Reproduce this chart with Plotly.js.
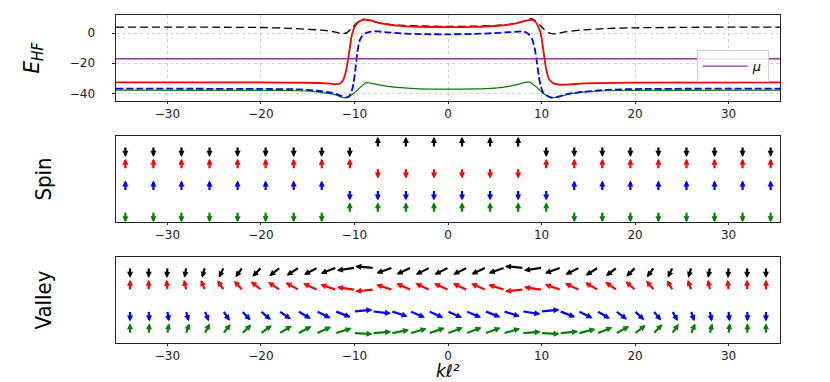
<!DOCTYPE html>
<html>
<head>
<meta charset="utf-8">
<script src="https://cdn.plot.ly/plotly-3.0.1.min.js"></script>
<style>
  body { margin: 0; background: #fff; }
  #chart { width: 830px; height: 382px; }
</style>
</head>
<body>
<div id="chart"></div>
<script>
// ---- top panel: Hartree-Fock bands E_HF(k l^2) ----
const kBlack = [-35.5, -30, -25, -20, -17, -15.8, -14, -13, -12.3, -11.6, -11.2, -10.8, -10.4, -10, -9.6, -9.1, -8.7, -8.2, -7.5, -6.5, -5.5, -4, -2, 0, 2, 4, 5.5, 6.5, 7.5, 8.3, 8.9, 9.3, 9.8, 10.3, 10.8, 11.3, 11.8, 12.7, 14.5, 17.3, 20, 25, 30, 35.5];
const eBlack = [4.0, 4.0, 3.9, 3.7, 3.2, 2.8, 2.2, 1.6, 1.0, 0.0, -0.4, 0.3, 2.5, 5.2, 7.5, 9.2, 9.0, 8.2, 7.0, 6.0, 5.3, 4.9, 4.6, 4.4, 4.5, 4.8, 5.2, 5.8, 6.9, 8.3, 9.5, 8.3, 5.5, 2.3, 0.2, -0.5, -0.1, 1.0, 2.2, 3.1, 3.5, 3.8, 4.0, 4.0];

const kRed = [-35.5, -20, -15, -13, -12, -11.6, -11.2, -10.9, -10.7, -10.5, -10.3, -10, -9.6, -9.2, -8.8, -8.2, -7.5, -6.5, -5.5, -3, 0, 3, 5, 6.5, 7.5, 8.3, 8.9, 9.3, 9.6, 9.9, 10.1, 10.3, 10.5, 10.8, 11.3, 12, 13, 14.5, 20, 35.5];
const eRed = [-32.7, -32.7, -32.9, -33.3, -33.8, -33.6, -31, -25, -18, -10, -2, 4, 7.2, 8.6, 8.9, 8.2, 7.0, 5.8, 5.0, 4.2, 4.0, 4.1, 4.7, 5.6, 6.8, 8.2, 8.8, 7.8, 5.0, 0, -7, -16, -24, -30.5, -33.3, -34.2, -34, -33.3, -32.8, -32.7];

const kBlue = [-35.5, -20, -16, -14, -12.8, -12, -11.4, -10.9, -10.6, -10.3, -10.1, -9.9, -9.7, -9.5, -9.2, -8.8, -8.2, -7.5, -6.5, -5, -2.5, 0, 2.5, 5, 6.5, 7.5, 8.1, 8.6, 9, 9.3, 9.5, 9.7, 9.9, 10.2, 10.6, 11.1, 11.7, 12.3, 13.3, 14.5, 17, 21, 35.5];
const eBlue = [-36.8, -37.0, -37.3, -38.2, -39.2, -40.3, -41.6, -42.6, -42.0, -38.5, -33, -24, -13, -6, -2, 0.0, 1.0, 1.1, 0.5, -0.2, -0.7, -0.8, -0.6, 0.0, 0.6, 1.0, 1.1, -0.5, -4, -11, -19, -28, -35, -39.5, -41.5, -42.9, -42.3, -41.1, -39.8, -38.9, -37.6, -37.0, -36.8];

const kGreen = [-35.5, -20, -16, -14, -12.8, -12, -11.4, -11, -10.6, -10.1, -9.6, -9.1, -8.8, -8.5, -8, -7.3, -6, -5, -3, 0, 3, 5, 6.5, 7.5, 8.2, 8.6, 9, 9.5, 10.2, 10.8, 11.3, 11.9, 12.7, 13.7, 14.8, 17, 21, 35.5];
const eGreen = [-37.8, -37.9, -38.2, -38.9, -40, -41, -42.4, -42.9, -42.4, -40, -37.2, -34.3, -33.0, -32.9, -33.5, -34.5, -35.6, -36.2, -36.9, -37.1, -37.0, -36.4, -35.3, -34, -32.7, -32.3, -33.5, -36, -40, -42.1, -42.7, -42.3, -40.7, -39.6, -38.9, -38.2, -37.9, -37.8];

const muRange = [-35.5, 35.5];
const muValue = -17;

// ---- middle panel: spin of each band (+1 up, -1 down) ----
const kSpin = [-34.5, -31.5, -28.5, -25.5, -22.5, -19.5, -16.5, -13.5, -10.5, -7.5, -4.5, -1.5, 1.5, 4.5, 7.5, 10.5, 13.5, 16.5, 19.5, 22.5, 25.5, 28.5, 31.5, 34.5];
const spinBlack = [-1, -1, -1, -1, -1, -1, -1, -1, -1, 1, 1, 1, 1, 1, 1, -1, -1, -1, -1, -1, -1, -1, -1, -1];
const spinRed   = [1, 1, 1, 1, 1, 1, 1, 1, 1, -1, -1, -1, -1, -1, -1, 1, 1, 1, 1, 1, 1, 1, 1, 1];
const spinBlue  = [1, 1, 1, 1, 1, 1, 1, 1, -1, -1, -1, -1, -1, -1, -1, -1, 1, 1, 1, 1, 1, 1, 1, 1];
const spinGreen = [-1, -1, -1, -1, -1, -1, -1, -1, 1, 1, 1, 1, 1, 1, 1, 1, -1, -1, -1, -1, -1, -1, -1, -1];

// ---- bottom panel: valley pseudospin angle (degrees) ----
const kValley = [-34, -32, -30, -28, -26, -24, -22, -20, -18, -16, -14, -12, -10, -8, -6, -4, -2, 0, 2, 4, 6, 8, 10, 12, 14, 16, 18, 20, 22, 24, 26, 28, 30, 32, 34];
const valBlack = [-90, -90, -92, -95, -99, -105, -112, -118, -125, -130, -136, -146, -165, 170, -148, -140, -138, -138, -138, -140, -148, 170, -165, -147, -138, -131, -125, -119, -112, -105, -99, -95, -92, -91, -90];
const valRed   = [90, 90, 93, 97, 103, 110, 117, 124, 130, 135, 140, 148, 165, -170, 150, 142, 140, 140, 140, 142, 150, -170, 165, 148, 140, 134, 128, 122, 115, 108, 101, 96, 93, 91, 90];
const valBlue  = [-90, -88, -85, -82, -77, -70, -63, -57, -52, -47, -42, -35, 10, -12, -30, -38, -40, -40, -38, -35, -30, -15, 10, -35, -42, -48, -54, -60, -66, -73, -80, -84, -87, -89, -90];
const valGreen = [90, 88, 85, 80, 74, 67, 60, 53, 48, 44, 40, 30, -5, 8, 20, 28, 32, 35, 35, 33, 28, 8, -4, 10, 25, 36, 45, 54, 62, 70, 77, 82, 86, 89, 90];

const bandColors = ['black', 'red', 'blue', 'green'];
const bandRows = [3, 2, 1, 0];

// arrow sizes in axis units (the axes are not square, so x and y differ)
const arrowLenX = 1.95;
const arrowLenY = 0.46;

let data = [
	{x: kBlack, y: eBlack, type: 'scatter', mode: 'lines', line: {color: 'black', width: 1.3, dash: '8px,4px', shape: 'spline', smoothing: 0.5}, showlegend: false, xaxis: 'x', yaxis: 'y'},
	{x: kRed, y: eRed, type: 'scatter', mode: 'lines', line: {color: 'red', width: 1.8, shape: 'spline', smoothing: 0.5}, showlegend: false, xaxis: 'x', yaxis: 'y'},
	{x: kGreen, y: eGreen, type: 'scatter', mode: 'lines', line: {color: 'green', width: 1.2, shape: 'spline', smoothing: 0.5}, showlegend: false, xaxis: 'x', yaxis: 'y'},
	{x: kBlue, y: eBlue, type: 'scatter', mode: 'lines', line: {color: 'blue', width: 1.8, dash: '7px,3px', shape: 'spline', smoothing: 0.5}, showlegend: false, xaxis: 'x', yaxis: 'y'},
	{x: muRange, y: [muValue, muValue], type: 'scatter', mode: 'lines', line: {color: '#9a2fa6', width: 1.3}, name: '<i>μ</i>', showlegend: true, xaxis: 'x', yaxis: 'y'}
];

let annotations = [];

function addArrow(axId, x0, y0, dx, dy, color) {
	annotations.push({
		xref: 'x' + axId, yref: 'y' + axId, axref: 'x' + axId, ayref: 'y' + axId,
		x: x0 + dx, y: y0 + dy, ax: x0, ay: y0,
		text: '', showarrow: true, arrowhead: 2, arrowsize: 0.55, arrowwidth: 2.2,
		arrowcolor: color, standoff: 0, startstandoff: 0, borderpad: 0,
		font: {size: 1}
	});
}

let spins = [spinBlack, spinRed, spinBlue, spinGreen];
for (let b = 0; b < 4; b++) {
	for (let i = 0; i < kSpin.length; i++) {
		addArrow(2, kSpin[i], bandRows[b], 0, spins[b][i] * arrowLenY, bandColors[b]);
	}
}

let valleys = [valBlack, valRed, valBlue, valGreen];
for (let b = 0; b < 4; b++) {
	for (let i = 0; i < kValley.length; i++) {
		let a = valleys[b][i] * Math.PI / 180;
		addArrow(3, kValley[i], bandRows[b], arrowLenX * Math.cos(a), arrowLenY * Math.sin(a), bandColors[b]);
	}
}

// x label of the bottom panel, sits in the bottom margin
annotations.push({
	xref: 'paper', yref: 'paper', x: 0.5, y: -0.119, xanchor: 'center', yanchor: 'bottom',
	text: '<i>kℓ²</i>', showarrow: false, borderpad: 0,
	font: {family: 'DejaVu Sans', size: 17, color: 'black'}
});

const tickFont = {family: 'DejaVu Sans', size: 12, color: '#222'};
const labelFont = {family: '"Liberation Sans Narrow", "DejaVu Sans Condensed", "Arial Narrow", sans-serif', size: 22, color: 'black'};

let xTicks = [-30, -20, -10, 0, 10, 20, 30];

function xAxis(anchor) {
	return {
		anchor: anchor, range: [-35.5, 35.5], tickvals: xTicks, tickfont: tickFont,
		ticks: 'outside', ticklen: 2, tickcolor: '#222',
		showline: true, mirror: true, linecolor: '#222', linewidth: 1,
		zeroline: false, showgrid: false
	};
}

let xaxis1 = xAxis('y');
xaxis1.showgrid = true;
xaxis1.gridcolor = '#c4c4c4';
xaxis1.griddash = 'dot';
xaxis1.gridwidth = 0.8;

var layout = {
	width: 830,
	height: 382,
	margin: {l: 116, r: 50, t: 15, b: 39},
	paper_bgcolor: 'white',
	plot_bgcolor: 'white',
	showlegend: true,
	legend: {
		x: 0.983, xanchor: 'right', y: 0.893, yanchor: 'top',
		bgcolor: 'rgba(255,255,255,0.85)', bordercolor: '#d0d0d0', borderwidth: 1,
		font: {family: 'DejaVu Sans', size: 13, color: 'black'}, itemwidth: 45
	},
	xaxis: xaxis1,
	yaxis: {
		domain: [0.7378, 1], range: [-45, 12], tickvals: [-40, -20, 0], tickfont: tickFont,
		ticks: 'outside', ticklen: 3.5, tickcolor: '#222', ticklabelstandoff: 14,
		showline: true, mirror: true, linecolor: '#222', linewidth: 1,
		zeroline: false, showgrid: true, gridcolor: '#c4c4c4', griddash: 'dot', gridwidth: 0.8,
		title: {text: '<i>E</i><sub><i>HF</i></sub>', font: labelFont, standoff: 24}
	},
	xaxis2: xAxis('y2'),
	yaxis2: {
		domain: [0.3689, 0.6311], range: [-0.45, 3.5], showticklabels: false, ticks: '',
		showline: true, mirror: true, linecolor: '#222', linewidth: 1,
		zeroline: false, showgrid: false,
		title: {text: 'Spin', font: labelFont, standoff: 57}
	},
	xaxis3: xAxis('y3'),
	yaxis3: {
		domain: [0, 0.2622], range: [-0.45, 3.5], showticklabels: false, ticks: '',
		showline: true, mirror: true, linecolor: '#222', linewidth: 1,
		zeroline: false, showgrid: false,
		title: {text: 'Valley', font: labelFont, standoff: 57}
	},
	annotations: annotations
};

Plotly.newPlot('chart', data, layout, {displayModeBar: false, staticPlot: true});
</script>
</body>
</html>
